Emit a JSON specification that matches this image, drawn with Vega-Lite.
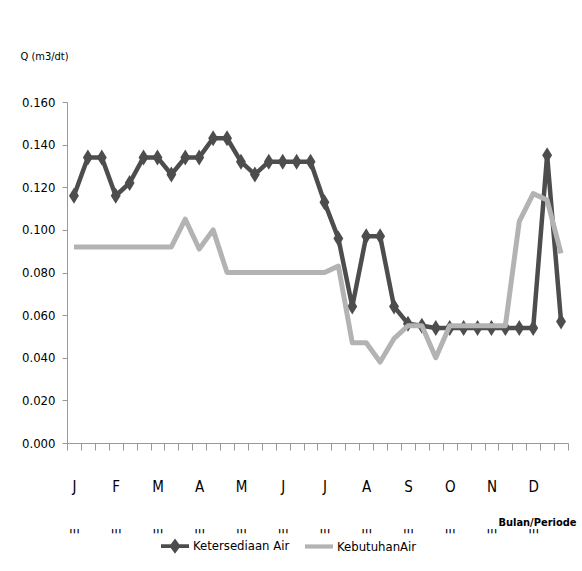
{
  "$schema": "https://vega.github.io/schema/vega-lite/v6.json",
  "autosize": {"type": "none"},
  "padding": {"left": 67, "top": 102, "right": 14, "bottom": 128},
  "width": 501,
  "height": 341,
  "background": "white",
  "config": {
    "view": {"stroke": null},
    "font": "DejaVu Sans Condensed, Liberation Sans Narrow, Liberation Sans, sans-serif",
    "axis": {"labelFont": "DejaVu Sans Condensed, Liberation Sans Narrow, Liberation Sans, sans-serif", "titleFont": "DejaVu Sans Condensed, Liberation Sans Narrow, Liberation Sans, sans-serif", "labelColor": "#000", "titleColor": "#000", "domainColor": "#999", "tickColor": "#999", "grid": false},
    "legend": {"labelFont": "DejaVu Sans Condensed, Liberation Sans Narrow, Liberation Sans, sans-serif"}
  },
  "data": {
    "values": [
      {"p": 1, "ket": 0.116, "keb": 0.092},
      {"p": 2, "ket": 0.134, "keb": 0.092},
      {"p": 3, "ket": 0.134, "keb": 0.092},
      {"p": 4, "ket": 0.116, "keb": 0.092},
      {"p": 5, "ket": 0.122, "keb": 0.092},
      {"p": 6, "ket": 0.134, "keb": 0.092},
      {"p": 7, "ket": 0.134, "keb": 0.092},
      {"p": 8, "ket": 0.126, "keb": 0.092},
      {"p": 9, "ket": 0.134, "keb": 0.105},
      {"p": 10, "ket": 0.134, "keb": 0.091},
      {"p": 11, "ket": 0.143, "keb": 0.100},
      {"p": 12, "ket": 0.143, "keb": 0.080},
      {"p": 13, "ket": 0.132, "keb": 0.080},
      {"p": 14, "ket": 0.126, "keb": 0.080},
      {"p": 15, "ket": 0.132, "keb": 0.080},
      {"p": 16, "ket": 0.132, "keb": 0.080},
      {"p": 17, "ket": 0.132, "keb": 0.080},
      {"p": 18, "ket": 0.132, "keb": 0.080},
      {"p": 19, "ket": 0.113, "keb": 0.080},
      {"p": 20, "ket": 0.096, "keb": 0.083},
      {"p": 21, "ket": 0.064, "keb": 0.047},
      {"p": 22, "ket": 0.097, "keb": 0.047},
      {"p": 23, "ket": 0.097, "keb": 0.038},
      {"p": 24, "ket": 0.064, "keb": 0.049},
      {"p": 25, "ket": 0.056, "keb": 0.055},
      {"p": 26, "ket": 0.055, "keb": 0.055},
      {"p": 27, "ket": 0.054, "keb": 0.040},
      {"p": 28, "ket": 0.054, "keb": 0.055},
      {"p": 29, "ket": 0.054, "keb": 0.055},
      {"p": 30, "ket": 0.054, "keb": 0.055},
      {"p": 31, "ket": 0.054, "keb": 0.055},
      {"p": 32, "ket": 0.054, "keb": 0.055},
      {"p": 33, "ket": 0.054, "keb": 0.104},
      {"p": 34, "ket": 0.054, "keb": 0.117},
      {"p": 35, "ket": 0.135, "keb": 0.114},
      {"p": 36, "ket": 0.057, "keb": 0.089}
    ]
  },
  "transform": [{"fold": ["ket", "keb"], "as": ["series", "q"]}],
  "encoding": {
    "x": {
      "field": "p", "type": "ordinal",
      "scale": {"type": "band", "paddingInner": 0, "paddingOuter": 0},
      "axis": {
        "title": "Bulan/Periode",
        "titleFontSize": 11, "titleFontWeight": "bold",
        "titleX": 470, "titleY": 79, "titleBaseline": "middle", "titleAlign": "center",
        "tickBand": "extent", "tickSize": 7,
        "labelAngle": 0, "labelFontSize": 15, "labelBaseline": "top", "labelPadding": 29,
        "labelLineHeight": 49, "labelOverlap": false, "labelBound": false,
        "labelExpr": "datum.value % 3 == 1 ? [['J','F','M','A','M','J','J','A','S','O','N','D'][floor((datum.value - 1) / 3)], \"'''\"] : ''"
      }
    },
    "y": {
      "field": "q", "type": "quantitative",
      "scale": {"domain": [0, 0.16], "nice": false},
      "axis": {
        "values": [0, 0.02, 0.04, 0.06, 0.08, 0.1, 0.12, 0.14, 0.16],
        "format": ".3f", "labelFontSize": 13, "tickSize": 5, "labelPadding": 7,
        "title": "Q (m3/dt)", "titleAngle": 0, "titleAlign": "left", "titleBaseline": "middle",
        "titleX": -47, "titleY": -46, "titleFontSize": 11, "titleFontWeight": "normal"
      }
    }
  },
  "layer": [
    {
      "transform": [{"filter": "datum.series == 'ket'"}],
      "mark": {"type": "line", "strokeWidth": 4.5, "strokeJoin": "round"},
      "encoding": {
        "color": {
          "field": "series", "type": "nominal",
          "scale": {"domain": ["ket", "keb"], "range": ["#4d4d4d", "#b3b3b3"]},
          "legend": {
            "title": null, "orient": "none", "direction": "horizontal",
            "legendX": 94, "legendY": 430, "padding": 0,
            "labelFontSize": 13, "labelColor": "#000", "labelOffset": 4,
            "columnPadding": 15, "symbolSize": 784,
            "symbolType": "M-1,-0.15H1V0.15H-1Z",
            "labelExpr": "datum.value == 'ket' ? 'Ketersediaan Air' : 'KebutuhanAir'",
            "encode": {
              "symbols": {
                "update": {
                  "shape": {"signal": "datum.value == 'ket' ? 'M-1,-0.14H-0.3L0,-0.55L0.3,-0.14H1V0.14H0.3L0,0.55L-0.3,0.14H-1Z' : 'M-1,-0.15H1V0.15H-1Z'"},
                  "fill": {"signal": "datum.value == 'ket' ? '#4d4d4d' : '#b3b3b3'"},
                  "fillOpacity": {"value": 1},
                  "strokeWidth": {"value": 0}
                }
              }
            }
          }
        }
      }
    },
    {
      "transform": [{"filter": "datum.series == 'ket'"}],
      "mark": {"type": "point", "shape": "M0,-1L0.62,0L0,1L-0.62,0Z", "size": 256, "filled": true, "opacity": 1, "color": "#4d4d4d"}
    },
    {
      "transform": [{"filter": "datum.series == 'keb'"}],
      "mark": {"type": "line", "strokeWidth": 5, "strokeJoin": "round"},
      "encoding": {
        "color": {"field": "series", "type": "nominal"}
      }
    }
  ]
}
